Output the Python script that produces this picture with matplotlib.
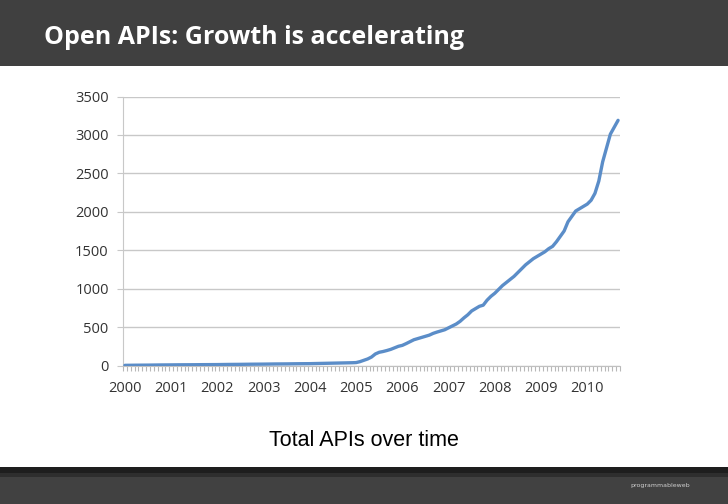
import matplotlib
matplotlib.use('Agg')
import matplotlib.pyplot as plt
from matplotlib.patches import Rectangle
from matplotlib.ticker import FixedLocator

# monthly totals, Jan 2000 .. Sep 2010
apis_2000 = [2, 3, 3, 4, 4, 5, 5, 6, 6, 7, 7, 8]
apis_2001 = [8, 9, 9, 9, 10, 10, 10, 11, 11, 11, 12, 12]
apis_2002 = [12, 13, 13, 14, 14, 15, 15, 16, 16, 17, 17, 18]
apis_2003 = [18, 19, 19, 20, 20, 21, 21, 22, 22, 23, 23, 24]
apis_2004 = [24, 25, 26, 27, 28, 29, 30, 31, 32, 33, 34, 36]
apis_2005 = [38, 50, 68, 85, 110, 150, 172, 182, 195, 210, 230, 250]
apis_2006 = [262, 285, 310, 335, 350, 365, 380, 395, 418, 435, 450, 465]
apis_2007 = [490, 515, 540, 575, 620, 660, 710, 740, 770, 785, 850, 900]
apis_2008 = [940, 990, 1040, 1080, 1120, 1160, 1210, 1260, 1310, 1350, 1390, 1420]
apis_2009 = [1450, 1480, 1520, 1550, 1610, 1680, 1750, 1870, 1940, 2010, 2040, 2070]
apis_2010 = [2100, 2150, 2240, 2400, 2650, 2830, 3010, 3100, 3190]

total_apis = (apis_2000 + apis_2001 + apis_2002 + apis_2003 + apis_2004 + apis_2005
              + apis_2006 + apis_2007 + apis_2008 + apis_2009 + apis_2010)
year_labels = [str(y) for y in range(2000, 2011)]
y_ticks = [0, 500, 1000, 1500, 2000, 2500, 3000, 3500]

n = len(total_apis)
months = list(range(n))

fig = plt.figure(figsize=(7.28, 5.04), dpi=100)
fig.patch.set_facecolor('white')

# header / footer bars
fig.add_artist(Rectangle((0, 1 - 66 / 504), 1, 66 / 504, transform=fig.transFigure,
                         facecolor='#404040', edgecolor='none', zorder=0))
fig.add_artist(Rectangle((0, 0), 1, 37 / 504, transform=fig.transFigure,
                         facecolor='#414141', edgecolor='none', zorder=0))
fig.add_artist(Rectangle((0, 31 / 504), 1, 6 / 504, transform=fig.transFigure,
                         facecolor='#1e1e1e', edgecolor='none', zorder=0))
fig.add_artist(Rectangle((0, 27 / 504), 1, 4 / 504, transform=fig.transFigure,
                         facecolor='#2e2e2e', edgecolor='none', zorder=0))

fig.text(44 / 728, 1 - 37 / 504, 'Open APIs: Growth is accelerating', color='white',
         fontsize=18, fontweight='bold', family='Open Sans', ha='left', va='center')
fig.text(364 / 728, 1 - 441 / 504, 'Total APIs over time', color='black',
         fontsize=15.5, family='Liberation Sans', ha='center', va='center')
fig.text(690 / 728, 1 - 485 / 504, 'programmableweb', color='#d0d0d0',
         fontsize=4.5, family='DejaVu Sans', ha='right', va='center')

ax = fig.add_axes([123 / 728, 1 - 365.5 / 504, 497 / 728, 269 / 504])
ax.plot(months, total_apis, color='#5b8dc8', lw=2.4, solid_capstyle='round',
        solid_joinstyle='round', zorder=3)

ax.set_xlim(-0.5, n - 0.5)
ax.set_ylim(0, 3500)
ax.set_yticks(y_ticks)
ax.set_yticklabels([str(v) for v in y_ticks])
ax.set_xticks(list(range(0, n, 12)))
ax.set_xticklabels(year_labels)
ax.xaxis.set_minor_locator(FixedLocator([m - 0.5 for m in range(n + 1)]))

ax.grid(axis='y', color='#c8c8c8', lw=1)
ax.set_axisbelow(True)
for side in ['top', 'right']:
    ax.spines[side].set_visible(False)
ax.spines['left'].set_color('#c8c8c8')
ax.spines['bottom'].set_color('#c0c0c0')

ax.tick_params(axis='y', length=4.3, color='#c8c8c8', pad=6, labelsize=10.5,
               labelcolor='#333333')
ax.tick_params(axis='x', which='major', length=0, pad=11.5, labelsize=10.5,
               labelcolor='#333333')
ax.tick_params(axis='x', which='minor', length=3.5, color='#b8b8b8', width=0.8)
for lbl in ax.get_xticklabels() + ax.get_yticklabels():
    lbl.set_family('Open Sans')

fig.savefig('out.png', dpi=100)
